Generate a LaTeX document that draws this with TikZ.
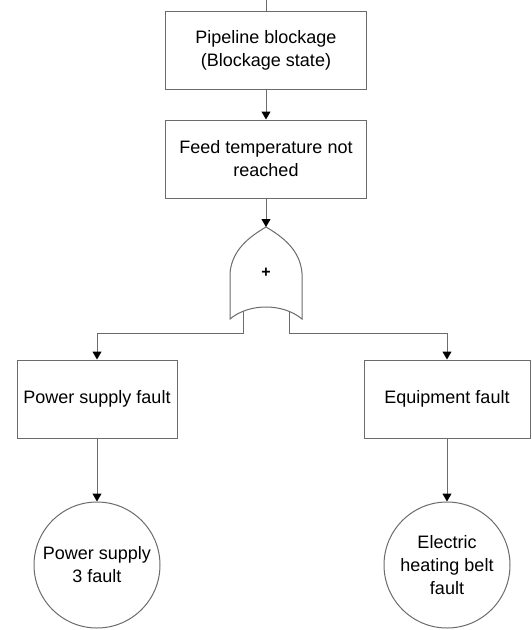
\documentclass[tikz,border=0pt]{standalone}
\usepackage{fontspec}
\setmainfont{Liberation Sans}
\usepackage{xcolor}
\usetikzlibrary{calc, arrows.meta, positioning}
\definecolor{lineg}{gray}{0.42}

\begin{document}
\begin{tikzpicture}[
    x=1pt, y=-1pt,
    every node/.style={font=\fontsize{18}{23}\selectfont, align=center},
    box/.style={draw=lineg, line width=1pt, rectangle, inner sep=0pt, minimum height=78pt},
    event/.style={draw=lineg, line width=1pt, circle, inner sep=0pt, minimum size=126pt},
    conn/.style={draw=lineg, line width=1pt},
    arr/.style={conn, -{Triangle[length=8pt, width=9pt, color=black]}},
  ]
  \useasboundingbox (0,0) rectangle (532,630);

  % Top events
  \node[box, minimum width=201pt] (block) at (266,50) {Pipeline blockage\\(Blockage state)};
  \node[box, minimum width=201pt] (feed) at (266,159) {Feed temperature not\\reached};

  % OR gate
  \coordinate (apex) at (266,227);
  \draw[conn, fill=white] (230,319) -- (230,273)
    .. controls (232,250) and (249,237) .. (apex)
    .. controls (283,237) and (300,250) .. (302,273)
    -- (302,319) .. controls (283,303) and (249,303) .. cycle;
  \node[font=\fontsize{16}{16}\selectfont\bfseries] (plus) at (266,273) {+};
  \coordinate (gl) at (243,311.3);
  \coordinate (gr) at (289,311.3);
  \coordinate (glf) at (243,333);
  \coordinate (grf) at (289,333);

  % Intermediate events
  \node[box, minimum width=160pt] (power) at (97,399) {Power supply fault};
  \node[box, minimum width=166pt] (equip) at (447,399) {Equipment fault};

  % Basic events
  \node[event] (ps3) at (97,565) {Power supply\\3 fault};
  \node[event] (belt) at (447,565) {Electric\\heating belt\\fault};

  % Connectors
  \coordinate (topend) at (266,0);
  \draw[conn] (topend) -- (block.north);
  \draw[arr] (block.south) -- (feed.north);
  \draw[arr] (feed.south) -- (apex);
  \draw[arr] (gl) -- (glf) -| (power.north);
  \draw[arr] (gr) -- (grf) -| (equip.north);
  \draw[arr] (power.south) -- (ps3.north);
  \draw[arr] (equip.south) -- (belt.north);
\end{tikzpicture}
\end{document}
